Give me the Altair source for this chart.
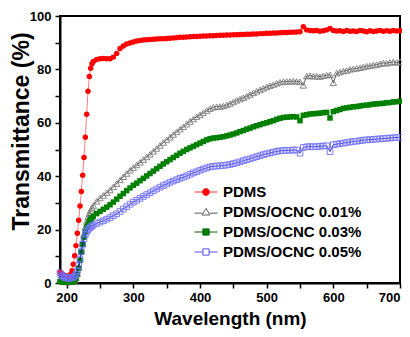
import altair as alt
import pandas as pd

wavelength = [190, 192, 194, 196, 198, 200, 202, 204, 206, 208, 210, 212, 214, 216, 218,
              220, 222, 224, 226, 228, 230, 232, 234, 236, 238, 240,
              245, 250, 255, 260, 265, 270, 275, 280, 285, 290, 295, 300, 305, 310, 315,
              320, 325, 330, 335, 340, 345, 350, 355, 360, 365, 370, 375, 380, 385, 390,
              395, 400, 405, 410, 415, 420, 425, 430, 435, 440, 445, 450, 455, 460, 465,
              470, 475, 480, 485, 490, 495, 500, 505, 510, 515, 520, 525, 530, 535, 540,
              545, 550, 555, 560, 565, 570, 575, 580, 585, 590, 595, 600, 605, 610, 615,
              620, 625, 630, 635, 640, 645, 650, 655, 660, 665, 670, 675, 680, 685, 690,
              695, 700]

pdms = [4.0, 3.6, 3.2, 2.9, 2.7, 2.5, 2.4, 2.6, 3.2, 4.6, 7.0, 10.2, 14.0, 18.6, 23.5,
        28.8, 34.3, 40.4, 47.0, 54.6, 63.2, 71.8, 77.3, 80.4, 82.1, 83.0,
        83.7, 84.0, 84.1, 84.0, 84.0, 84.6, 86.0, 87.8, 88.8, 89.5, 89.9, 90.3, 90.6, 90.8, 91.0,
        91.1, 91.2, 91.3, 91.4, 91.5, 91.5, 91.6, 91.7, 91.8, 91.9, 92.0, 92.0, 92.1, 92.2, 92.3,
        92.3, 92.4, 92.5, 92.5, 92.6, 92.6, 92.7, 92.8, 92.8, 92.9, 92.9, 93.0, 93.0, 93.1, 93.1,
        93.2, 93.2, 93.3, 93.3, 93.4, 93.4, 93.5, 93.5, 93.6, 93.6, 93.7, 93.8, 93.8, 93.9, 93.9,
        94.0, 94.1, 96.0, 94.8, 94.6, 94.5, 94.6, 94.3, 94.5, 94.8, 95.3, 94.6, 94.4, 94.5, 94.2,
        94.6, 94.3, 94.4, 94.2, 94.6, 94.4, 94.1, 94.5, 94.2, 94.4, 94.6, 94.3, 94.5, 94.3, 94.6,
        94.4, 94.5]

ocnc_001 = [1.0, 0.8, 0.6, 0.5, 0.4, 0.4, 0.4, 0.4, 0.5, 0.6, 0.8, 1.2, 2.0, 3.5, 6.0,
            9.0, 12.0, 15.0, 18.0, 21.0, 23.0, 24.8, 26.0, 27.2, 28.2, 29.0,
            30.6, 31.8, 32.8, 33.8, 34.8, 36.0, 37.2, 38.6, 39.8, 41.0, 42.2, 43.2, 44.2, 45.2, 46.2,
            47.2, 48.2, 49.3, 50.4, 51.5, 52.6, 53.6, 54.6, 55.6, 56.6, 57.6, 58.5, 59.5, 60.5, 61.4,
            62.3, 63.0, 63.8, 64.6, 65.3, 65.8, 66.0, 66.1, 66.3, 66.7, 67.2, 67.8, 68.4, 68.9, 69.4,
            70.0, 70.6, 71.2, 71.8, 72.4, 72.9, 73.4, 73.9, 74.3, 74.8, 75.2, 75.4, 75.5, 75.5, 75.6,
            75.5, 75.4, 74.0, 77.5, 77.6, 77.4, 77.5, 77.3, 77.6, 77.8, 78.0, 75.0, 78.6, 79.0, 79.4,
            79.6, 80.0, 80.2, 80.4, 80.6, 80.9, 81.2, 81.3, 81.6, 81.8, 82.1, 82.4, 82.3, 82.6, 82.8,
            82.6, 82.9]

ocnc_003 = [0.6, 0.5, 0.4, 0.3, 0.3, 0.3, 0.3, 0.3, 0.3, 0.4, 0.6, 1.0, 1.8, 3.2, 5.5,
            8.5, 11.5, 14.5, 17.2, 19.3, 20.8, 22.0, 23.0, 23.8, 24.4, 25.0,
            26.0, 26.8, 27.6, 28.4, 29.3, 30.3, 31.4, 32.5, 33.5, 34.6, 35.6, 36.6, 37.4, 38.3, 39.2,
            40.1, 41.0, 41.9, 42.8, 43.7, 44.6, 45.4, 46.2, 47.0, 47.8, 48.6, 49.3, 50.0, 50.6, 51.2,
            51.8, 52.4, 53.0, 53.6, 54.0, 54.3, 54.4, 54.6, 54.8, 55.1, 55.4, 55.8, 56.2, 56.7, 57.1,
            57.6, 58.0, 58.5, 58.9, 59.3, 59.7, 60.0, 60.4, 60.8, 61.3, 61.7, 62.0, 62.1, 62.2, 62.3,
            62.2, 60.8, 62.8, 63.0, 63.3, 63.4, 63.5, 63.6, 63.8, 63.9, 61.8, 64.2, 64.6, 65.0, 65.4,
            65.6, 65.8, 66.0, 66.1, 66.3, 66.5, 66.6, 66.8, 67.0, 67.1, 67.2, 67.3, 67.5, 67.6, 67.8,
            67.9, 68.1]

ocnc_005 = [3.8, 3.0, 2.5, 2.2, 2.0, 1.9, 1.8, 1.8, 1.9, 2.0, 2.2, 2.6, 3.3, 4.5, 6.5,
            9.0, 11.8, 14.5, 16.6, 18.2, 19.3, 20.0, 20.5, 21.0, 21.4, 21.7,
            22.3, 22.8, 23.3, 23.9, 24.5, 25.2, 25.9, 26.8, 27.7, 28.6, 29.5, 30.3, 31.0, 31.7, 32.4,
            33.1, 33.8, 34.5, 35.2, 35.9, 36.5, 37.1, 37.7, 38.2, 38.7, 39.2, 39.6, 40.1, 40.7, 41.2,
            41.7, 42.2, 42.7, 43.1, 43.5, 43.7, 43.8, 43.9, 44.0, 44.2, 44.4, 44.7, 45.0, 45.4, 45.8,
            46.2, 46.5, 46.9, 47.3, 47.7, 48.1, 48.4, 48.7, 49.0, 49.3, 49.5, 49.6, 49.7, 49.7, 49.8,
            49.8, 48.6, 50.8, 51.0, 51.1, 51.0, 51.1, 51.2, 51.3, 51.4, 49.2, 51.8, 52.0, 52.2, 52.4,
            52.6, 52.8, 53.0, 53.1, 53.3, 53.5, 53.6, 53.7, 53.8, 53.9, 54.0, 54.1, 54.2, 54.3, 54.4,
            54.5, 54.6]

series_names = ["PDMS", "PDMS/OCNC 0.01%", "PDMS/OCNC 0.03%", "PDMS/OCNC 0.05%"]
series_values = [pdms, ocnc_001, ocnc_003, ocnc_005]

x_ticks = [200, 250, 300, 350, 400, 450, 500, 550, 600, 650, 700]
y_ticks = [0, 10, 20, 30, 40, 50, 60, 70, 80, 90, 100]

rows = []
for name, vals in zip(series_names, series_values):
    for w, t in zip(wavelength, vals):
        rows.append({"wl": w, "T": t, "series": name})
df = pd.DataFrame(rows)

FONT = "Liberation Sans"

x_enc = alt.X("wl:Q",
              scale=alt.Scale(domain=[190, 700], nice=False, zero=False),
              axis=alt.Axis(values=x_ticks,
                            labelExpr="datum.value % 100 == 0 ? datum.label : ''",
                            title="Wavelength (nm)", titleY=41, titleBaseline="alphabetic",
                            titleFontSize=19, labelFontSize=13, labelPadding=3))
y_enc = alt.Y("T:Q",
              scale=alt.Scale(domain=[0, 100], nice=False),
              axis=alt.Axis(values=y_ticks,
                            labelExpr="datum.value % 20 == 0 ? datum.label : ''",
                            title="Transmittance (%)", titleX=-32, titleY=115,
                            titleBaseline="alphabetic", titleAngle=270,
                            titleFontSize=23, labelFontSize=13, labelPadding=4))

styles = [
    ("PDMS", "#ff5a5a", dict(shape="circle", filled=True, size=30, color="#ff0000")),
    ("PDMS/OCNC 0.01%", "#303030", dict(shape="triangle-up", filled=False, size=40,
                                        color="#7a7a7a", strokeWidth=0.9)),
    ("PDMS/OCNC 0.03%", "#006400", dict(shape="square", filled=True, size=30, color="#008000")),
    ("PDMS/OCNC 0.05%", "#0000cc", dict(shape="square", filled=False, size=32,
                                        color="#7070ff", strokeWidth=0.9)),
]

layers = []
for name, lcol, pk in styles:
    base = alt.Chart(df).transform_filter(alt.datum.series == name)
    layers.append(base.mark_line(color=lcol, strokeWidth=0.8).encode(x=x_enc, y=y_enc))
    layers.append(base.mark_point(opacity=1, **pk).encode(x=x_enc, y=y_enc))

sym_circle = "M-1,0H-0.3M0.3,0H1M-0.3,0A0.3,0.3,0,1,1,0.3,0A0.3,0.3,0,1,1,-0.3,0Z"
sym_tri = "M-1,0.1H-0.31M0.31,0.1H1M0,-0.32L0.34,0.26L-0.34,0.26Z"
sym_sq = "M-1,0H-0.27M0.27,0H1M-0.27,-0.27H0.27V0.27H-0.27Z"

legend = alt.Legend(title=None, orient="none", legendX=134, legendY=164,
                    labelFont=FONT, labelFontSize=15, labelFontWeight="bold",
                    labelColor="black", symbolSize=529, symbolStrokeWidth=1,
                    rowPadding=0, labelOffset=5, labelLimit=300)

leg_layer = alt.Chart(df).transform_filter("false").mark_point(filled=True, opacity=1).encode(
    x=x_enc, y=y_enc,
    shape=alt.Shape("series:N", scale=alt.Scale(domain=series_names,
                                               range=[sym_circle, sym_tri, sym_sq, sym_sq]),
                    legend=legend),
    stroke=alt.Stroke("series:N", scale=alt.Scale(domain=series_names,
                                                 range=["#ff3030", "#606060", "#006400", "#5050ee"]),
                      legend=legend),
    fill=alt.Fill("series:N", scale=alt.Scale(domain=series_names,
                                             range=["#ff0000", "white", "#008000", "white"]),
                  legend=legend),
)

chart = alt.layer(*layers, leg_layer).properties(
    width=340, height=267,
    autosize=alt.AutoSizeParams(type="none"),
    padding={"left": 52, "top": 8, "right": 2, "bottom": 46},
).configure_view(
    stroke="black", strokeWidth=2
).configure_axis(
    grid=False, domainColor="black", domainWidth=2, tickColor="black", tickWidth=1.5,
    tickSize=5, labelFont=FONT, labelFontWeight="bold", labelColor="black",
    titleFont=FONT, titleFontWeight="bold", titleColor="black"
)

chart.save("out.html", embed_options={"renderer": "svg", "actions": False})
